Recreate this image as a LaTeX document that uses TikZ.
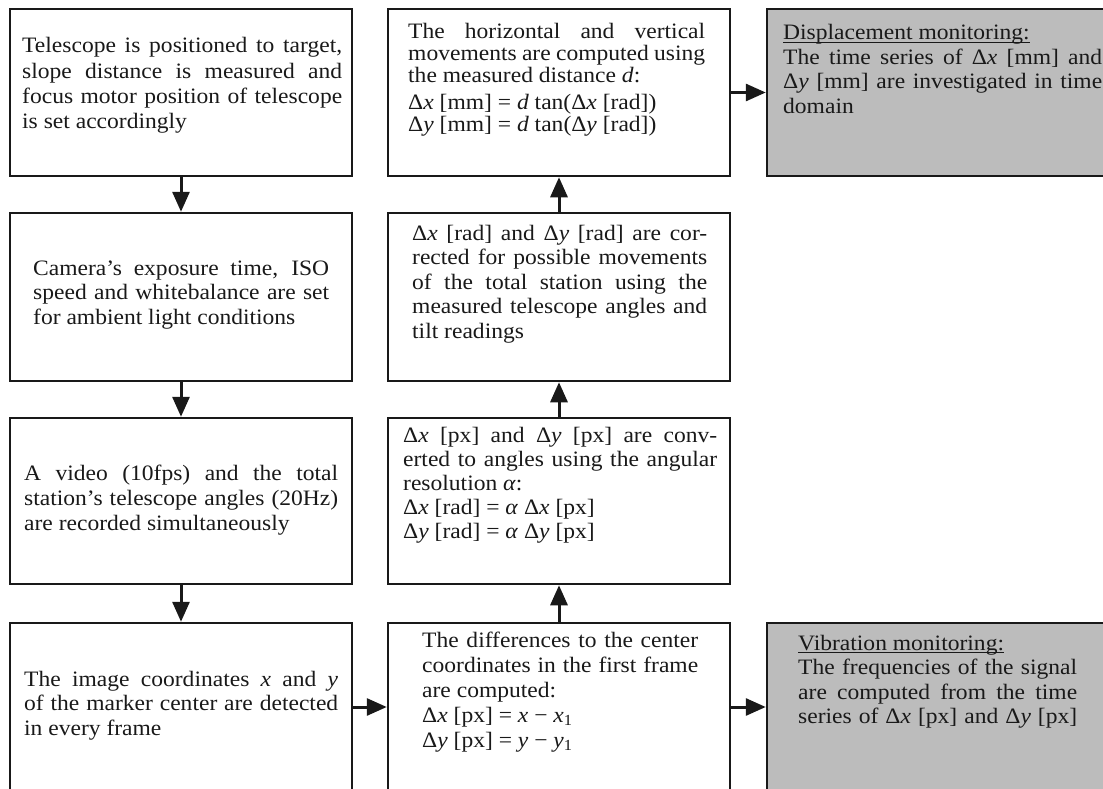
\documentclass[tikz,border=0pt]{standalone}
\usepackage{fontspec}
\setmainfont{Liberation Serif}[FakeStretch=1.07]
\usetikzlibrary{arrows.meta}
\definecolor{boxgray}{RGB}{188,188,188}
\definecolor{ink}{RGB}{25,25,25}
\newcommand\jl[1]{\hbox to \hsize{#1}}
\newcommand\lastl[1]{\hbox{#1}}
\newcommand\tb[3]{\vtop{\hsize=#1\fontsize{22}{#2}\selectfont\lineskiplimit=-100pt\lineskip=0pt #3}}
\newcommand\dx{Δ\textit{x}}
\newcommand\dy{Δ\textit{y}}
\newcommand\ul[1]{\setbox0\hbox{#1}\rlap{\rule[-3.2pt]{\wd0}{1.1pt}}\box0}
\tikzset{
  box/.style={draw=ink, line width=2.5pt, inner sep=0pt, minimum width=342pt, minimum height=168pt},
  graybox/.style={box, fill=boxgray},
  txt/.style={anchor=base west, inner sep=0pt, text=ink},
  arr/.style={draw=ink, line width=3pt, -{Triangle[length=20pt,width=17pt]}}
}
\begin{document}
\begin{tikzpicture}[x=1pt,y=-1pt]
\useasboundingbox[fill=white] (0,0) rectangle (1103,789);
\clip (0,0) rectangle (1103,789);
% boxes
\node[box, minimum height=167pt] (L1) at (181,92.5) {};
\node[box] (L2) at (181,297) {};
\node[box, minimum height=166pt] (L3) at (181,501) {};
\node[box] (L4) at (181,707) {};
\node[box, minimum height=167pt] (M1) at (559,92.5) {};
\node[box] (M2) at (559,297) {};
\node[box, minimum height=166pt] (M3) at (559,501) {};
\node[box] (M4) at (559,707) {};
\node[graybox, minimum width=351pt, minimum height=167pt] (R1) at (942.5,92.5) {};
\node[graybox] (R2) at (938,707) {};
% texts
\node[txt] (L1t) at (22,53) {\tb{320pt}{25.2pt}{%
\jl{Telescope is positioned to target,}
\jl{slope distance is measured and}
\jl{focus motor position of telescope}
\lastl{is set accordingly}}};
\node[txt] (L2t) at (33,275) {\tb{296pt}{24.8pt}{%
\jl{Camera's exposure time, ISO}
\jl{speed and whitebalance are set}
\lastl{for ambient light conditions}}};
\node[txt] (L3t) at (24,480.5) {\tb{314pt}{24.8pt}{%
\jl{A video (10fps) and the total}
\jl{station's telescope angles (20Hz)}
\lastl{are recorded simultaneously}}};
\node[txt] (L4t) at (24,686) {\tb{314pt}{24.8pt}{%
\jl{The image coordinates \textit{x} and \textit{y}}
\jl{of the marker center are detected}
\lastl{in every frame}}};
\node[txt] (M1t) at (408,38.5) {\tb{297pt}{22.2pt}{%
\jl{The horizontal and vertical}
\jl{movements are computed using}
\lastl{the measured distance \textit{d}:}
\vskip 4.5pt
\lastl{\dx{} [mm] = \textit{d} tan(\dx{} [rad])}
\lastl{\dy{} [mm] = \textit{d} tan(\dy{} [rad])}}};
\node[txt] (M2t) at (412,240) {\tb{295pt}{24.5pt}{%
\jl{\dx{} [rad] and \dy{} [rad] are cor-}
\jl{rected for possible movements}
\jl{of the total station using the}
\jl{measured telescope angles and}
\lastl{tilt readings}}};
\node[txt] (M3t) at (403,442.5) {\tb{314pt}{24pt}{%
\jl{\dx{} [px] and \dy{} [px] are conv-}
\jl{erted to angles using the angular}
\lastl{resolution \textit{α}:}
\lastl{\dx{} [rad] = \textit{α} \dx{} [px]}
\lastl{\dy{} [rad] = \textit{α} \dy{} [px]}}};
\node[txt] (M4t) at (422,647) {\tb{276pt}{25.1pt}{%
\jl{The differences to the center}
\jl{coordinates in the first frame}
\lastl{are computed:}
\lastl{\dx{} [px] = \textit{x} − \textit{x}\textsubscript{1}}
\lastl{\dy{} [px] = \textit{y} − \textit{y}\textsubscript{1}}}};
\node[txt] (R1t) at (783,39.5) {\tb{319pt}{24.7pt}{%
\lastl{\ul{Displacement monitoring:}}
\jl{The time series of \dx{} [mm] and}
\jl{\dy{} [mm] are investigated in time}
\lastl{domain}}};
\node[txt] (R2t) at (798,650) {\tb{279pt}{24.5pt}{%
\lastl{\ul{Vibration monitoring:}}
\jl{The frequencies of the signal}
\jl{are computed from the time}
\jl{series of \dx{} [px] and \dy{} [px]}}};
% connectors
\draw[arr] (L1) -- (L2);
\draw[arr] (L2) -- (L3);
\draw[arr] (L3) -- (L4);
\draw[arr] (L4) -- (M4);
\draw[arr] (M4) -- (M3);
\draw[arr] (M3) -- (M2);
\draw[arr] (M2) -- (M1);
\draw[arr] (M1) -- (R1);
\draw[arr] (M4) -- (R2);
\end{tikzpicture}
\end{document}
